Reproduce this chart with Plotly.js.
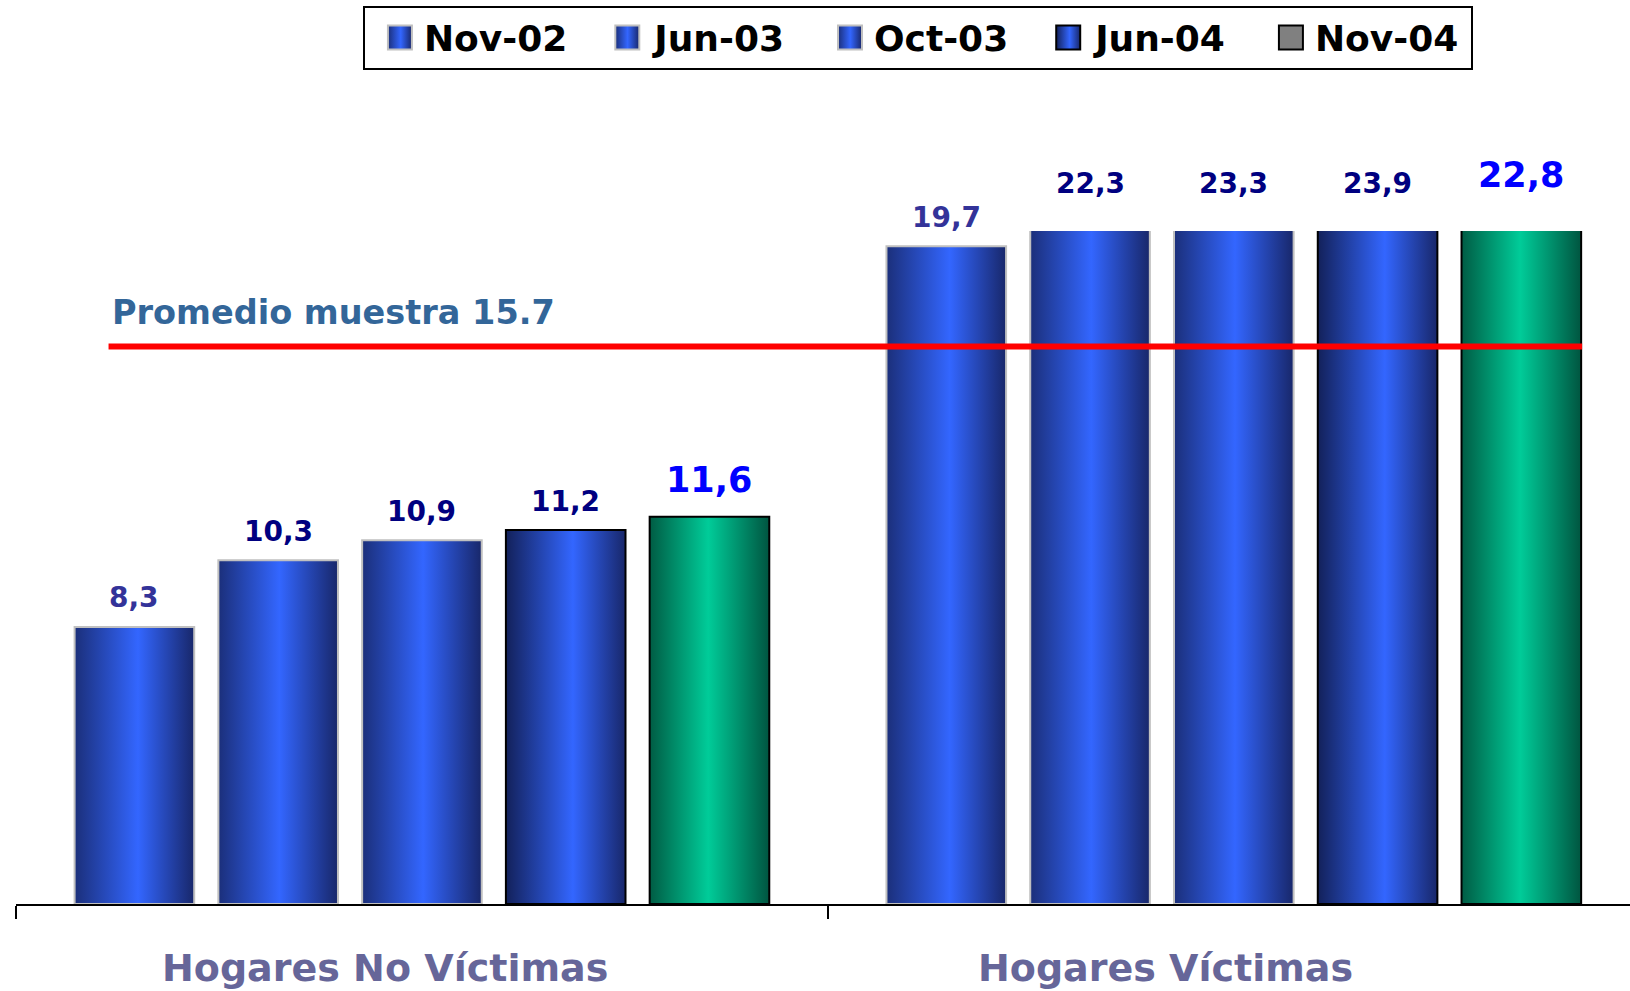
<!DOCTYPE html>
<html>
<head>
<meta charset="utf-8">
<script src="https://cdn.plot.ly/plotly-3.0.1.min.js"></script>
<style>
  html, body { margin: 0; padding: 0; background: #ffffff; overflow: hidden; }
  #chart { width: 1630px; height: 991px; }
</style>
</head>
<body>
<div id="chart"></div>
<script>
// ---------- data ----------
const categories = ['Hogares No Víctimas', 'Hogares Víctimas'];
const seriesNames = ['Nov-02', 'Jun-03', 'Oct-03', 'Jun-04', 'Nov-04'];
const nov02 = [8.3, 19.7];
const jun03 = [10.3, 22.3];
const oct03 = [10.9, 23.3];
const jun04 = [11.2, 23.9];
const nov04 = [11.6, 22.8];
const seriesValues = [nov02, jun03, oct03, jun04, nov04];
const averageLabel = 'Promedio muestra 15.7';
const averageLevel = 16.7;   // level where the red line is drawn in the picture

// ---------- style ----------
const FONT = 'DejaVu Sans, Verdana, sans-serif';
const yMax = 20.16;
const bargap = 0.1146;
const bargroupgap = 0.168;
const baseColors = ['#3366ff', '#3366ff', '#3366ff', '#3366ff', '#00cc99'];
const outlineColors = ['#c0c0c0', '#c0c0c0', '#c0c0c0', '#000000', '#000000'];
const gradients = [
  [[0, '#1b2f7a'], [0.53, '#3366ff'], [1, '#18276a']],
  [[0, '#1b2f7a'], [0.51, '#3366ff'], [1, '#18276a']],
  [[0, '#1b2f7a'], [0.51, '#3366ff'], [1, '#18276a']],
  [[0, '#13215a'], [0.56, '#3366ff'], [1, '#18276a']],
  [[0, '#005c44'], [0.49, '#00cc99'], [1, '#005540']]
];
const legendFill = [null, null, null, null, '#808080'];
const labelColors = [
  ['#333399', '#333399'],
  ['#000080', '#000080'],
  ['#000080', '#000080'],
  ['#000080', '#000080'],
  ['#0000ff', '#0000ff']
];
const labelSizes = [28, 28, 28, 28, 35];

const traces = seriesNames.map((name, i) => ({
  type: 'bar',
  name: name,
  x: categories,
  y: seriesValues[i],
  marker: { color: baseColors[i], line: { color: outlineColors[i], width: 2 } },
  hoverinfo: 'none'
}));

// data labels as annotations
const slot = (1 - bargap) / seriesNames.length;
const annotations = [];
seriesValues.forEach((vals, s) => {
  vals.forEach((v, c) => {
    const clipped = v > yMax;
    annotations.push({
      xref: 'x', yref: 'y',
      x: c + (s - (seriesNames.length - 1) / 2) * slot,
      y: Math.min(v, yMax),
      text: v.toFixed(1).replace('.', ','),
      showarrow: false,
      xanchor: 'center', yanchor: 'middle',
      yshift: (clipped ? 48 : 29) + (labelSizes[s] > 28 ? 8 : 0),
      font: { family: FONT, size: labelSizes[s], color: labelColors[s][c], weight: 700 }
    });
  });
});

// category labels
const catShift = [-37, -68];
categories.forEach((cat, c) => {
  annotations.push({
    xref: 'x', yref: 'paper', x: c, y: 0,
    text: cat, showarrow: false,
    xanchor: 'center', yanchor: 'middle',
    xshift: catShift[c], yshift: -64,
    font: { family: FONT, size: 38, color: '#666699', weight: 700 }
  });
});

// average label
annotations.push({
  xref: 'x', yref: 'y', x: -0.384, y: averageLevel,
  text: averageLabel, showarrow: false,
  xanchor: 'left', yanchor: 'middle', yshift: 34,
  font: { family: FONT, size: 33.5, color: '#336699', weight: 700 }
});

const legendX = 0.2007;
const layout = {
  width: 1630, height: 991,
  margin: { l: 16, r: 0, t: 231, b: 87, pad: 0 },
  paper_bgcolor: '#ffffff', plot_bgcolor: '#ffffff',
  barmode: 'group', bargap: bargap, bargroupgap: bargroupgap,
  showlegend: true,
  legend: {
    orientation: 'h', x: legendX, y: 1.335, xanchor: 'left', yanchor: 'top',
    bgcolor: '#ffffff', bordercolor: '#000000', borderwidth: 2,
    font: { family: FONT, size: 36, color: '#000000', weight: 700 },
    itemwidth: 72, itemclick: false, itemdoubleclick: false
  },
  xaxis: {
    type: 'category', range: [-0.5, 1.488],
    showline: true, linecolor: '#000000', linewidth: 2,
    ticks: 'outside', tickson: 'boundaries', ticklen: 13, tickwidth: 2, tickcolor: '#000000',
    showticklabels: false, showgrid: false, zeroline: false, fixedrange: true
  },
  yaxis: {
    range: [0, yMax], visible: false, showgrid: false, zeroline: false, fixedrange: true
  },
  shapes: [{
    type: 'line', xref: 'x', yref: 'y', x0: -0.386, x1: 1.429, y0: averageLevel, y1: averageLevel,
    line: { color: '#ff0000', width: 6 }, layer: 'above'
  }],
  annotations: annotations
};

Plotly.newPlot('chart', traces, layout, { staticPlot: true, displayModeBar: false }).then(gd => {
  const NS = 'http://www.w3.org/2000/svg';
  const svg = gd.querySelector('svg.main-svg');
  const defs = document.createElementNS(NS, 'defs');
  svg.insertBefore(defs, svg.firstChild);
  gradients.forEach((stops, i) => {
    const lg = document.createElementNS(NS, 'linearGradient');
    lg.setAttribute('id', 'barGrad' + i);
    lg.setAttribute('x1', '0'); lg.setAttribute('y1', '0');
    lg.setAttribute('x2', '1'); lg.setAttribute('y2', '0');
    stops.forEach(([off, col]) => {
      const st = document.createElementNS(NS, 'stop');
      st.setAttribute('offset', off);
      st.setAttribute('stop-color', col);
      lg.appendChild(st);
    });
    defs.appendChild(lg);
  });
  gd.querySelectorAll('.barlayer .trace').forEach((t, i) => {
    t.querySelectorAll('path').forEach(p => { p.style.fill = 'url(#barGrad' + i + ')'; });
  });
  gd.querySelectorAll('.legend .traces').forEach((t, i) => {
    const p = t.querySelector('.legendpoints path');
    if (!p) return;
    const txt = t.querySelector('text.legendtext');
    let cx = 0;
    if (txt) {
      // symbol centred 24px before the start of its label
      const tb = txt.getBBox();
      const pm = p.getCTM(), tm = txt.getCTM();
      cx = (tm.e + tb.x * tm.a - 24) - pm.e;
    }
    p.setAttribute('d', `M${cx + 12},12H${cx - 12}V-12H${cx + 12}Z`);
    p.style.fill = legendFill[i] ? legendFill[i] : 'url(#barGrad' + i + ')';
  });
  // legend frame to the size seen in the picture
  const leg = gd.querySelector('.legend');
  const bg = gd.querySelector('.legend rect.bg');
  if (bg && leg) {
    const lm = leg.getCTM();
    bg.setAttribute('x', 364 - lm.e);
    bg.setAttribute('width', 1108);
  }
});
</script>
</body>
</html>
